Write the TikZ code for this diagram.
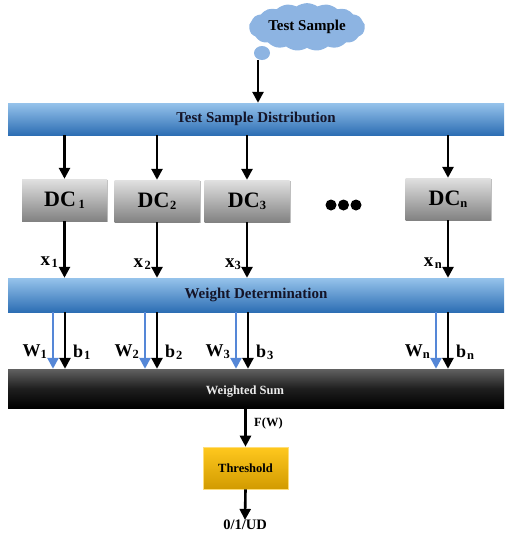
\documentclass[tikz,border=0pt]{standalone}
\usepackage{fontspec}
\setmainfont{Liberation Serif}
\usetikzlibrary{arrows.meta,shapes.symbols,shadows}
\newcommand\fsz[1]{\fontsize{#1}{#1}\selectfont\bfseries}
\newcommand\sublab[4]{{\fsz{#1}#2}\hspace{#4}\raisebox{-0.4ex}{\fsz{12.5}#3}}
\definecolor{bartop}{RGB}{150,195,235}
\definecolor{barbot}{RGB}{45,110,180}
\definecolor{cloudc}{RGB}{141,180,226}
\definecolor{wblue}{RGB}{85,135,215}
\definecolor{dctop}{RGB}{225,225,225}
\definecolor{dcbot}{RGB}{130,130,130}
\definecolor{goldtop}{RGB}{255,200,30}
\definecolor{goldbot}{RGB}{210,155,0}
\definecolor{txtdark}{RGB}{20,20,40}
\begin{document}
\begin{tikzpicture}[x=1pt,y=-1pt,
  arr/.style={line width=2.6pt,-{Triangle[width=11pt,length=11pt]}},
  barr/.style={arr,color=wblue},
  bluebar/.style={rectangle,minimum width=496pt,inner sep=0pt,top color=bartop,bottom color=barbot,text=txtdark,font=\fsz{15}},
  dcbox/.style={rectangle,minimum width=85pt,minimum height=42pt,inner sep=0pt,top color=dctop,bottom color=dcbot,
    drop shadow={shadow xshift=1.2pt,shadow yshift=-1.2pt,opacity=0.5},text=black},
  lab/.style={inner sep=0pt,text=black},
]
\useasboundingbox (0,0) rectangle (504,533);

% cloud
\fill[cloudc] (262,53) ellipse (8pt and 7pt);
\node[cloud,cloud puffs=17,cloud puff arc=70,aspect=2.6,fill=cloudc,minimum width=116pt,minimum height=46pt,inner sep=0pt,font=\fsz{15}] (cloud) at (307,27) {Test Sample};
\coordinate (tail) at (258,60);

% bars
\node[bluebar,minimum height=32pt] (tsd) at (256,119) {Test Sample Distribution};
\node[bluebar,minimum height=34pt] (wd) at (256,295) {Weight Determination};
\node[rectangle,minimum width=496pt,minimum height=39pt,inner sep=0pt,top color=black!62,bottom color=black,middle color=black!88,text=black!8,font=\fsz{12.5}] (ws) at (256,388.5) {};
\node[lab,text=black!8,font=\fsz{12.5}] (wstext) at (245,392) {Weighted Sum};

\draw[arr] (tail) -- (tail |- tsd.north);

% DC boxes
\node[dcbox] (dc1) at (64.5,200) {\sublab{22}{DC}{1}{2.5pt}};
\node[dcbox] (dc2) at (157,201) {\sublab{22}{DC}{2}{0.5pt}};
\node[dcbox] (dc3) at (247,201) {\sublab{22}{DC}{3}{0pt}};
\node[dcbox] (dcn) at (448,199) {\sublab{22}{DC}{n}{0pt}};

\foreach \x in {331,343.5,356}
  \fill (\x,205) circle (5.5pt);

% arrows distribution -> DC
\foreach \d in {dc1,dc2,dc3,dcn}{
  \draw[arr] (\d.north |- tsd.south) -- (\d.north);
  \draw[arr] (\d.south) -- (\d.south |- wd.north);
}

% x labels
\node[lab,anchor=east] (x1) at (58,262) {\sublab{19}{x}{1}{1.5pt}};
\node[lab,anchor=east] (x2) at (151,264) {\sublab{19}{x}{2}{1.5pt}};
\node[lab,anchor=east] (x3) at (241,264) {\sublab{19}{x}{3}{0pt}};
\node[lab,anchor=east] (xn) at (442,263) {\sublab{19}{x}{n}{1.5pt}};

% W and b arrows
\foreach \bx/\k in {65/1,157/2,248/3,448/n}{
  \coordinate (bt\k) at (\bx,312);
  \coordinate (wt\k) at (\bx-12,312);
  \draw[barr] (wt\k) -- (wt\k |- ws.north);
  \draw[arr] (bt\k) -- (bt\k |- ws.north);
  \node[lab,anchor=east] (W\k) at (\bx-18,352) {\sublab{18}{W}{\k}{0pt}};
  \node[lab,anchor=west] (b\k) at (\bx+8,352) {\sublab{18}{b}{\k}{1pt}};
}

% threshold
\node[rectangle,minimum width=85pt,minimum height=42pt,inner sep=0pt,top color=goldtop,bottom color=goldbot,draw=goldtop!60!white,line width=0.6pt,font=\fsz{12.5},text=black] (th) at (245.5,468) {Threshold};
\draw[arr] (ws.south -| th.north) -- (th.north);
\node[lab,anchor=west,font=\fsz{12.5}] (fw) at (254,423) {F(W)};

\node[lab,font=\fsz{14.5}] (out) at (245,525) {0/1/UD};
\draw[arr] (th.south) -- (out.north);
\end{tikzpicture}
\end{document}
